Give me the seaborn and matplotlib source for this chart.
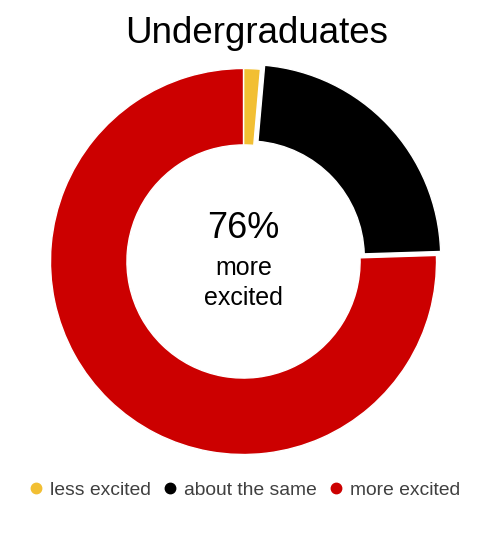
import matplotlib
matplotlib.use('Agg')
import matplotlib.pyplot as plt
from matplotlib.lines import Line2D
import seaborn as sns

sns.set_theme(style='white')
plt.rcParams['font.family'] = ['Liberation Sans', 'DejaVu Sans']

categories = ['less excited', 'about the same', 'more excited']
values = [1.4, 23.1, 75.5]
colors = sns.color_palette(['#f2bf33', '#000000', '#cc0000'])
explode = [0, 0.03, 0]

W, H = 478, 535
cx, cy, R = 243.5, 261.5, 193

fig = plt.figure(figsize=(W / 100, H / 100), dpi=100)
half = 1.05 * R
ax = fig.add_axes([(cx - half) / W, (H - cy - half) / H, 2 * half / W, 2 * half / H])

ax.pie(values, colors=colors, startangle=90, counterclock=False, explode=explode,
       radius=1, wedgeprops=dict(width=0.396, edgecolor='white', linewidth=1))
ax.set_xlim(-1.05, 1.05)
ax.set_ylim(-1.05, 1.05)
ax.set_aspect('equal')
ax.axis('off')

# centre label
def px_y(y):
    return (cy - y) / R

ax.text(0, px_y(228), '76%', ha='center', va='center', fontsize=26, color='black')
ax.text(0, px_y(268), 'more', ha='center', va='center', fontsize=18, color='black')
ax.text(0, px_y(298), 'excited', ha='center', va='center', fontsize=18, color='black')

fig.text(256.5 / W, 1 - 43.3 / H, 'Undergraduates', ha='center', va='baseline',
         fontsize=26.5, color='black')

handles = [Line2D([0], [0], marker='o', linestyle='', markersize=7.5,
                  markerfacecolor=c, markeredgecolor=c) for c in colors]
fig.legend(handles, categories, loc='center', bbox_to_anchor=(244 / W, 1 - 490 / H),
           ncol=3, frameon=False, fontsize=13.9, handlelength=0.8,
           handletextpad=0.33, columnspacing=0.6, labelcolor='#404040')

fig.savefig('out.png', dpi=100, facecolor='white')
